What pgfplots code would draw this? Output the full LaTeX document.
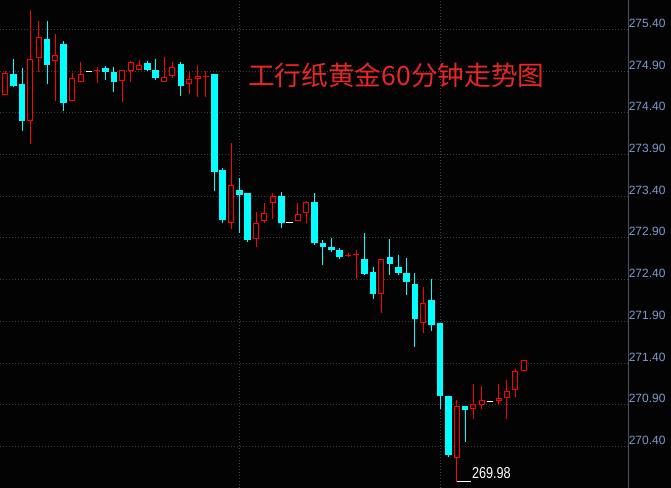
\documentclass[border=0pt]{standalone}
\usepackage{fontspec}
\setmainfont{Liberation Sans}
\newfontfamily\cjk{Noto Sans CJK SC}
\usepackage{pgfplots}
\pgfplotsset{compat=1.18}
\usepackage{pgfplotstable}

\definecolor{upc}{RGB}{255,0,0}
\definecolor{dnc}{RGB}{0,255,255}
\definecolor{gridc}{RGB}{62,62,62}
\definecolor{axc}{RGB}{72,82,98}
\definecolor{tickc}{RGB}{125,155,205}
\definecolor{titlec}{RGB}{232,38,38}
\definecolor{bg}{RGB}{3,3,3}

% falling candles (cyan): index, open, high, low, close
\pgfplotstableread{
n  o       h       l       c
3  274.864 275.044 274.704 274.724
4  274.744 274.932 274.184 274.304
7  275.280 275.500 274.748 274.976
9  275.224 275.256 274.424 274.520
14 274.936 274.960 274.792 274.892
15 274.888 274.948 274.652 274.772
19 274.996 275.020 274.900 274.916
20 274.912 275.044 274.796 274.820
23 274.984 275.008 274.604 274.724
27 274.864 274.864 273.467 273.694
28 273.714 273.734 273.083 273.115
30 273.475 273.619 272.964 273.419
31 273.439 273.439 272.856 272.880
35 273.404 273.452 273.016 273.084
39 273.332 273.436 272.816 272.844
40 272.844 272.876 272.576 272.796
41 272.796 272.896 272.736 272.756
42 272.756 272.784 272.652 272.676
45 272.644 272.960 272.456 272.468
46 272.492 272.556 272.172 272.228
48 272.668 272.888 272.456 272.588
49 272.548 272.700 272.456 272.484
50 272.480 272.660 272.220 272.376
51 272.348 272.480 271.596 271.932
53 272.156 272.408 271.788 271.860
54 271.881 271.881 270.855 271.011
55 271.007 271.007 270.280 270.304
57 270.887 270.887 270.456 270.843
}\dn

% rising candles (red, hollow)
\pgfplotstableread{
n  o       h       l       c
1  274.353 274.649 274.353 274.649
2  274.616 274.900 274.616 274.872
5  274.296 275.632 274.028 275.040
6  275.052 275.500 274.892 275.304
8  275.016 275.344 274.544 275.088
10 274.536 274.872 274.536 274.812
11 274.764 275.008 274.764 274.860
13 274.904 274.948 274.760 274.916
16 274.776 274.916 274.532 274.908
17 274.896 275.020 274.772 275.008
18 274.908 275.032 274.908 274.968
21 274.764 275.068 274.764 274.824
22 274.836 275.008 274.820 274.944
24 274.740 274.888 274.628 274.800
25 274.800 274.972 274.592 274.836
26 274.830 274.900 274.592 274.842
29 273.083 274.038 273.011 273.531
32 272.888 273.208 272.796 273.076
33 273.100 273.316 273.076 273.196
34 273.316 273.444 273.124 273.400
37 273.100 273.316 273.100 273.184
38 273.196 273.340 273.076 273.332
43 272.680 272.720 272.670 272.700
44 272.700 272.756 272.404 272.712
47 272.232 272.652 272.004 272.644
52 271.876 272.308 271.764 272.116
56 270.260 270.959 269.980 270.887
58 270.855 271.155 270.727 270.907
59 270.903 271.123 270.847 270.955
61 270.947 271.155 270.895 270.979
62 270.987 271.195 270.731 271.071
63 271.083 271.335 271.000 271.311
64 271.303 271.435 271.303 271.435
}\up

% unchanged (white doji)
\pgfplotstableread{
n  p
12 274.900
36 273.088
60 270.943
}\flat

\pgfplotsset{
  candle/.style n args={2}{draw=none, mark=none, error bars/.cd, y dir=plus,
    y explicit, error mark=none, error bar style={line width=#2, draw=#1, solid}},
}

\begin{document}
\begin{tikzpicture}
\path[use as bounding box, fill=bg] (0,0) rectangle (503.25pt,366pt);
\begin{axis}[
  name=ax, at={(0,0)}, anchor=south west, scale only axis,
  width=471pt, height=366pt,
  xmin=1.366, xmax=76.49, ymin=269.905, ymax=275.751,
  axis line style={draw=none},
  xtick={30,54}, xticklabels={}, xmajorgrids,
  ytick={270.4,270.9,271.4,271.9,272.4,272.9,273.4,273.9,274.4,274.9,275.4},
  ymajorgrids, yticklabel pos=right,
  major tick length=0pt,
  grid style={color=gridc, line width=0.75pt, dash pattern=on 0.75pt off 1.5pt},
  yticklabel style={anchor=base west, inner sep=0pt, xshift=0.4pt, yshift=1.5pt,
    text=tickc, font=\fontsize{9}{10}\selectfont},
  yticklabel={\pgfmathprintnumber[fixed,fixed zerofill,precision=2,assume math mode=true]{\tick}},
]
% cyan wicks and bodies
\addplot[candle={dnc}{0.75pt}]
  table[x=n, y=l, y error plus expr=\thisrow{h}-\thisrow{l}] {\dn};
\addplot[candle={dnc}{5pt}]
  table[x=n, y=c, y error plus expr=\thisrow{o}-\thisrow{c}] {\dn};
% red wicks, bodies, then hollow inside
\addplot[candle={upc}{0.75pt}]
  table[x=n, y=l, y error plus expr=\thisrow{h}-\thisrow{l}] {\up};
\addplot[candle={upc}{4.5pt}]
  table[x=n, y=o, y error plus expr=\thisrow{c}-\thisrow{o}] {\up};
\addplot[candle={bg}{3pt}]
  table[x=n, y expr=\thisrow{o}+0.012,
    y error plus expr={max(\thisrow{c}-\thisrow{o}-0.024,0)}] {\up};
% doji
\addplot[white, only marks, mark=-, mark size=2.5pt, mark options={line width=0.75pt}]
  table[x=n, y=p] {\flat};
% low marker
\draw[white, line width=0.75pt] (axis cs:56,269.98) -- (axis cs:57.72,269.98);
\node[anchor=base west, inner sep=0pt, text=white, font=\fontsize{9.5}{10}\selectfont]
  at (axis cs:57.8,270.021) {\scalebox{1}[1.25]{269.98}};
\end{axis}
\draw[axc, line width=0.75pt] (ax.south east) -- (ax.north east);
\node[anchor=base west, inner sep=0pt, text=titlec, font=\cjk\fontsize{20}{20}\selectfont]
  at (186pt,301.5pt) {工行纸黄金60分钟走势图};
\end{tikzpicture}
\end{document}
